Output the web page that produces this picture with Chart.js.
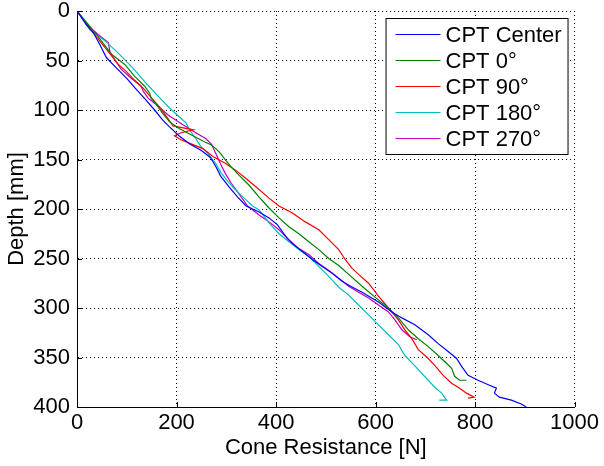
<!DOCTYPE html>
<html>
<head>
<meta charset="utf-8">
<script src="https://cdn.jsdelivr.net/npm/chart.js@4/dist/chart.umd.min.js"></script>
<style>
  html, body { margin: 0; padding: 0; background: #ffffff; }
  #wrap { width: 604px; height: 466px; }
</style>
</head>
<body>
<div id="wrap"><canvas id="c" width="604" height="466"></canvas></div>
<script>
// ---- Data (Cone Resistance [N] vs Depth [mm]) ----
const seriesLabels = ['CPT Center', 'CPT 0\u00b0', 'CPT 90\u00b0', 'CPT 180\u00b0', 'CPT 270\u00b0'];
const seriesColors = ['#0000ff', '#008000', '#ff0000', '#00bfbf', '#bf00bf'];

const centerForce = [0,19,33,46,59,78,100,117,137,156,172,186,205,226,250,268,279,289,306,323,340,366,386,403,413,423,433,453,473,493,513,533,550,573,606,633,653,679,706,726,746,763,773,786,806,829,843,839,849,873,893,903];
const centerDepth = [0,14,22,34,47,57,68,78,89,100,110,117,126,134,141,148,157,167,178,188,197,203,209,216,223,230,235,243,251,258,265,273,278,284,294,304,310,317,327,336,344,351,359,368,373,378,381,386,390,393,397,400];

const deg0Force = [0,20,40,53,70,96,116,136,146,149,159,173,186,206,233,256,269,279,289,299,309,326,346,366,386,406,426,446,466,486,506,526,546,573,599,626,646,666,686,706,726,739,753,759,769,783];
const deg0Depth = [0,12,24,33,44,54,66,76,83,88,94,104,112,119,126,132,135,139,144,151,157,166,176,188,199,209,218,225,233,241,250,257,266,278,289,300,310,322,331,339,348,354,361,369,373,373];

const deg90Force = [0,15,33,50,66,83,99,116,133,150,166,186,193,234,209,196,209,233,253,273,299,319,339,363,386,406,433,459,486,506,526,539,553,566,586,606,626,646,659,673,686,706,719,736,753,769,783,798,786];
const deg90Depth = [0,10,22,33,43,54,61,70,78,88,97,111,116,120,123,126,130,135,139,147,154,161,169,179,189,197,204,213,221,231,241,251,260,266,275,288,300,312,322,331,342,351,358,368,376,381,386,390,391];

const deg180Force = [0,26,59,69,86,113,139,163,186,206,219,229,239,249,265,279,289,303,319,336,353,366,386,406,426,446,466,486,506,526,546,566,586,606,626,646,659,680,706,719,733,743,728];
const deg180Depth = [0,19,31,36,44,58,73,86,98,107,113,122,129,137,145,154,163,172,181,189,197,201,214,225,233,241,248,258,268,279,287,297,307,317,327,337,348,359,373,380,386,393,393];

const deg270Force = [0,23,43,63,66,73,89,109,129,133,143,163,183,213,239,259,271,279,288,298,310,323,343,366,386,406,426,446,466,486,506,526,546,566,586,606,626,639,653,669,683];
const deg270Depth = [0,15,24,32,41,47,59,68,76,81,88,96,105,115,123,129,135,144,154,164,174,183,197,206,213,221,231,240,246,255,262,270,278,284,290,297,304,312,322,329,332];

const xTickStep = 200, xMin = 0, xMax = 1000;
const yTickStep = 50, yMin = 0, yMax = 400;

const forces = [centerForce, deg0Force, deg90Force, deg180Force, deg270Force];
const depths = [centerDepth, deg0Depth, deg90Depth, deg180Depth, deg270Depth];

const FONT = '"Liberation Sans", Arial, Helvetica, sans-serif';
const FS = 22;

const datasets = seriesLabels.map((label, i) => ({
  label: label,
  data: forces[i].map((f, k) => ({ x: f, y: depths[i][k] })),
  borderColor: seriesColors[i],
  backgroundColor: seriesColors[i],
  borderWidth: 1.2,
  showLine: true,
  pointRadius: 0,
  fill: false,
  tension: 0
}));

// inward tick marks (MATLAB style)
const inwardTicks = {
  id: 'inwardTicks',
  afterDatasetsDraw(chart) {
    const ctx = chart.ctx, a = chart.chartArea;
    const xs = chart.scales.x, ys = chart.scales.y;
    ctx.save();
    ctx.strokeStyle = '#000';
    ctx.lineWidth = 1;
    ctx.beginPath();
    xs.ticks.forEach(t => {
      const px = Math.round(xs.getPixelForValue(t.value)) + 0.5;
      ctx.moveTo(px, a.bottom); ctx.lineTo(px, a.bottom - 5);
    });
    ys.ticks.forEach(t => {
      const py = Math.round(ys.getPixelForValue(t.value)) + 0.5;
      ctx.moveTo(a.left, py); ctx.lineTo(a.left + 5, py);
    });
    ctx.stroke();
    ctx.restore();
  }
};

// legend box drawn inside plot area (top-right)
const boxLegend = {
  id: 'boxLegend',
  afterDraw(chart) {
    const ctx = chart.ctx, a = chart.chartArea;
    const w = 182, h = 136;
    const left = a.right - 189, top = a.top + 7;
    ctx.save();
    ctx.fillStyle = '#fff';
    ctx.fillRect(left, top, w, h);
    ctx.strokeStyle = '#000';
    ctx.lineWidth = 1;
    ctx.strokeRect(left + 0.5, top + 0.5, w, h);
    ctx.font = FS + 'px ' + FONT;
    ctx.textBaseline = 'middle';
    ctx.textAlign = 'left';
    chart.data.datasets.forEach((ds, i) => {
      const y = top + 16.5 + i * 26;
      ctx.strokeStyle = ds.borderColor;
      ctx.lineWidth = 1.2;
      ctx.beginPath();
      ctx.moveTo(left + 10, y); ctx.lineTo(left + 55, y);
      ctx.stroke();
      ctx.fillStyle = '#000';
      ctx.fillText(ds.label, left + 60, y + 1);
    });
    ctx.restore();
  }
};

new Chart(document.getElementById('c'), {
  type: 'scatter',
  data: { datasets: datasets },
  plugins: [inwardTicks, boxLegend],
  options: {
    responsive: false,
    animation: false,
    maintainAspectRatio: false,
    layout: { padding: { top: 11, right: 27, left: 0, bottom: 0 } },
    plugins: { legend: { display: false }, tooltip: { enabled: false } },
    scales: {
      x: {
        type: 'linear',
        position: 'bottom',
        min: xMin, max: xMax,
        ticks: { stepSize: xTickStep, color: '#000', padding: 5, maxRotation: 0,
                 font: { family: FONT, size: FS, lineHeight: 1 },
                 callback: v => String(v) },
        grid: { color: '#000', lineWidth: 1, drawTicks: false },
        border: { display: true, color: '#000', width: 1, dash: [1, 3] },
        title: { display: true, text: 'Cone Resistance [N]', color: '#000', font: { family: FONT, size: FS, lineHeight: 1.2 }, padding: { top: 0, bottom: 5 } },
        afterFit(scale) { scale.height = 59; }
      },
      y: {
        type: 'linear',
        reverse: true,
        min: yMin, max: yMax,
        ticks: { stepSize: yTickStep, color: '#000', padding: 7,
                 font: { family: FONT, size: FS, lineHeight: 0.2 },
                 callback: v => String(v) },
        grid: { color: '#000', lineWidth: 1, drawTicks: false },
        border: { display: true, color: '#000', width: 1, dash: [1, 3] },
        title: { display: true, text: 'Depth [mm]', color: '#000', font: { family: FONT, size: FS, lineHeight: 1.2 }, padding: { top: 4, bottom: 0 } },
        afterFit(scale) { scale.width = 77; }
      }
    }
  }
});
</script>
</body>
</html>
